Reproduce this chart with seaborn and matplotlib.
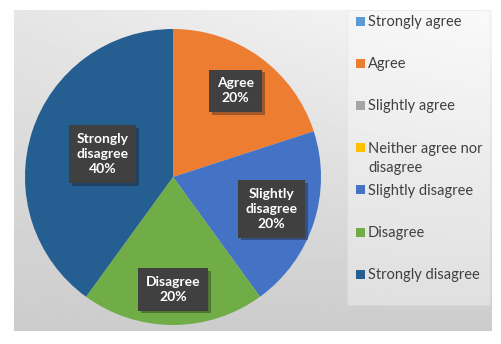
import matplotlib
matplotlib.use("Agg")
import matplotlib.pyplot as plt
import matplotlib.patheffects as pe
from matplotlib.patches import Rectangle
import seaborn as sns
import numpy as np

# Survey answers (share of respondents, %)
categories = ["Strongly agree", "Agree", "Slightly agree",
              "Neither agree nor\ndisagree", "Slightly disagree",
              "Disagree", "Strongly disagree"]
short_labels = ["Strongly agree", "Agree", "Slightly agree",
                "Neither agree nor disagree", "Slightly\ndisagree",
                "Disagree", "Strongly\ndisagree"]
values = [0, 20, 0, 0, 20, 20, 40]
hex_colors = ["#5B9BD5", "#ED7D31", "#A5A5A5", "#FFC000",
              "#4472C4", "#70AD47", "#255E91"]
# radial position of each data label (fraction of radius, Excel "best fit")
label_dist = [0.7, 0.72, 0.7, 0.7, 0.70, 0.76, 0.50]

sns.set_style("white")
plt.rcParams["font.family"] = ["Lato", "DejaVu Sans"]
colors = sns.color_palette(hex_colors)

W, H = 501, 344
fig = plt.figure(figsize=(W / 100, H / 100), dpi=100)

# chart area background with soft gradient
bg = fig.add_axes([0, 0, 1, 1])
bg.set_xlim(0, W)
bg.set_ylim(H, 0)
bg.axis("off")
xs = np.linspace(0, 1, 200)
ys = np.linspace(0, 1, 200)
X, Y = np.meshgrid(xs, ys)
grad = 0.80 + 0.10 * (1 - Y) + 0.07 * X * (1 - Y)
bg.imshow(grad, cmap="gray", vmin=0, vmax=1, extent=(14, 492, 331, 10),
          aspect="auto", interpolation="bilinear")
bg.add_patch(Rectangle((347, 10), 143, 295, facecolor="white", alpha=0.35,
                       edgecolor="#d8d8d8", lw=0.6))

# pie
ax = fig.add_axes([25 / W, (H - 325) / H, 296 / W, 296 / H])
wedges, _ = ax.pie(values, colors=colors, startangle=90, counterclock=False,
                   labels=None, wedgeprops=dict(linewidth=0))
ax.set_aspect("equal")
ax.set_xlim(-1, 1)
ax.set_ylim(-1, 1)

total = sum(values)
for w, v, lab, d in zip(wedges, values, short_labels, label_dist):
    if v == 0:
        continue
    ang = np.deg2rad((w.theta1 + w.theta2) / 2)
    t = ax.text(d * np.cos(ang), d * np.sin(ang),
                f"{lab}\n{v / total * 100:.0f}%",
                ha="center", va="center", color="white", fontsize=10,
                fontweight="bold", linespacing=1.3,
                bbox=dict(boxstyle="square,pad=0.55", facecolor="#404040",
                          edgecolor="none"))
    t.get_bbox_patch().set_path_effects(
        [pe.SimplePatchShadow(offset=(2, -2), alpha=0.35), pe.Normal()])

# legend, laid out like Excel's right-hand legend
top, step = 21, 42.2
for i, (lab, c) in enumerate(zip(categories, colors)):
    y = top + i * step
    bg.add_patch(Rectangle((356, y - 4.5), 9, 9, facecolor=c, edgecolor="none"))
    for k, line in enumerate(lab.split("\n")):
        bg.text(368, y + 5 + k * 19, line, fontsize=10.5, color="#404040",
                va="baseline", ha="left")

fig.savefig("out.png", dpi=100)
